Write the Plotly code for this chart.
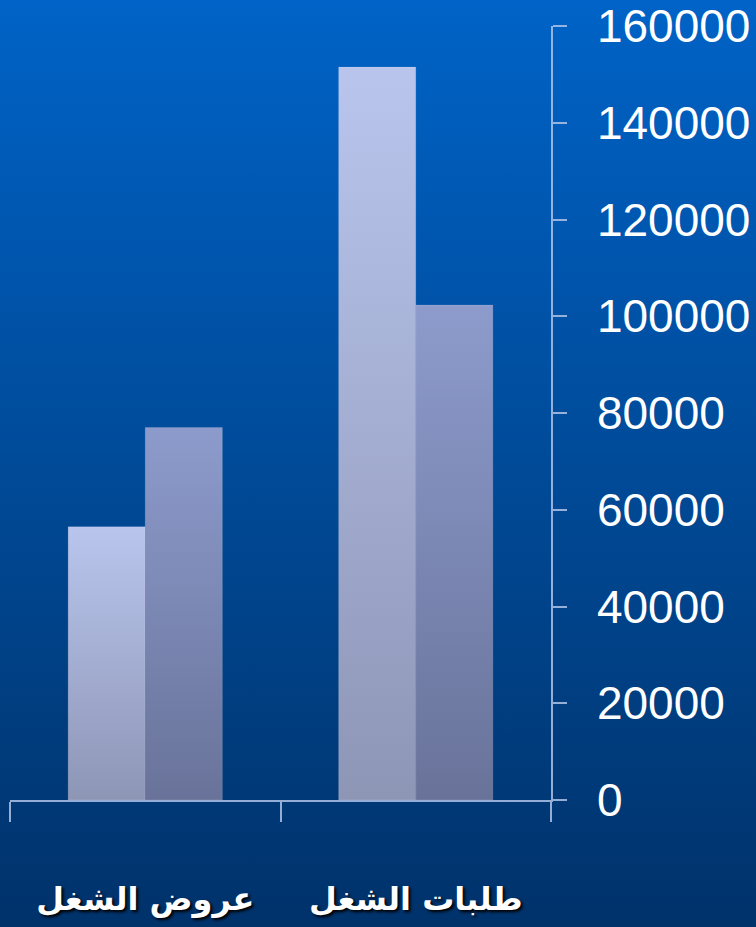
import base64
import plotly.graph_objects as go

# ---- data ----
categories = ["عروض الشغل", "طلبات الشغل"]
series_light = [56500, 151500]
series_dark = [77000, 102300]
y_ticks = [0, 20000, 40000, 60000, 80000, 100000, 120000, 140000, 160000]

# ---- style ----
W, H = 756, 927
ML, MR, MT, MB = 10, 205, 26, 127
PW, PH = W - ML - MR, H - MT - MB
BAR_W = 0.285
LIGHT_SCALE = [[0, "#8e96b6"], [1, "#b9c5ed"]]
DARK_SCALE = [[0, "#69739a"], [1, "#8d9bcc"]]
AXIS_COLOR = "rgba(175,195,230,0.85)"

fig = go.Figure()

series = [(series_light, LIGHT_SCALE, -0.5), (series_dark, DARK_SCALE, 0.5)]
for vals, scale, off in series:
    for i, v in enumerate(vals):
        cx = i + off * BAR_W
        x0, x1 = cx - BAR_W / 2, cx + BAR_W / 2
        fig.add_trace(go.Scatter(
            x=[x0, x1, x1, x0, x0],
            y=[0, 0, v, v, 0],
            mode="lines",
            fill="toself",
            line=dict(width=1, color="rgba(255,255,255,0.12)"),
            fillgradient=dict(type="vertical", colorscale=scale, start=0, stop=v),
            hoverinfo="skip",
            showlegend=False,
        ))

svg = (
    f"<svg xmlns='http://www.w3.org/2000/svg' width='{W}' height='{H}' "
    f"viewBox='0 0 {W} {H}' preserveAspectRatio='none'>"
    "<defs><linearGradient id='g' x1='0' y1='0' x2='0' y2='1'>"
    "<stop offset='0' stop-color='#0063c7'/>"
    "<stop offset='1' stop-color='#00326a'/>"
    "</linearGradient></defs>"
    f"<rect width='{W}' height='{H}' fill='url(#g)'/></svg>"
)
src = "data:image/svg+xml;base64," + base64.b64encode(svg.encode()).decode()

fig.add_layout_image(dict(
    source=src, xref="paper", yref="paper",
    x=-ML / PW, y=1 + MT / PH, sizex=W / PW, sizey=H / PH,
    xanchor="left", yanchor="top", sizing="stretch", layer="below",
))

fig.update_layout(
    width=W, height=H,
    margin=dict(l=ML, r=MR, t=MT, b=MB, autoexpand=False),
    paper_bgcolor="#004a98",
    plot_bgcolor="rgba(0,0,0,0)",
    showlegend=False,
    xaxis=dict(
        range=[-0.5, 1.5],
        automargin=False,
        tickmode="array",
        tickvals=list(range(len(categories))),
        ticktext=categories,
        ticks="",
        showgrid=False, zeroline=False,
        showline=True, linecolor=AXIS_COLOR, linewidth=1.5,
        tickfont=dict(family="DejaVu Sans", size=32, color="white", weight="bold",
                      shadow="2px 2px 3px #000"),
        ticklabelstandoff=70,
        minor=dict(tickmode="array", tickvals=[-0.5, 0.5, 1.5], ticks="outside",
                   ticklen=20, tickwidth=1.5, tickcolor=AXIS_COLOR),
        fixedrange=True,
    ),
    yaxis=dict(
        side="right",
        range=[0, 160000],
        automargin=False,
        tickmode="array",
        tickvals=y_ticks,
        ticktext=[str(t) for t in y_ticks],
        showgrid=False, zeroline=False,
        showline=True, linecolor=AXIS_COLOR, linewidth=1.5,
        ticks="outside", ticklen=14, tickwidth=1.5, tickcolor=AXIS_COLOR,
        tickfont=dict(family="Liberation Sans, Arial", size=46, color="white"),
        ticklabelstandoff=21,
        fixedrange=True,
    ),
)

fig.write_html("out.html", config={"displayModeBar": False},
               post_script="document.body.style.margin='0';")
